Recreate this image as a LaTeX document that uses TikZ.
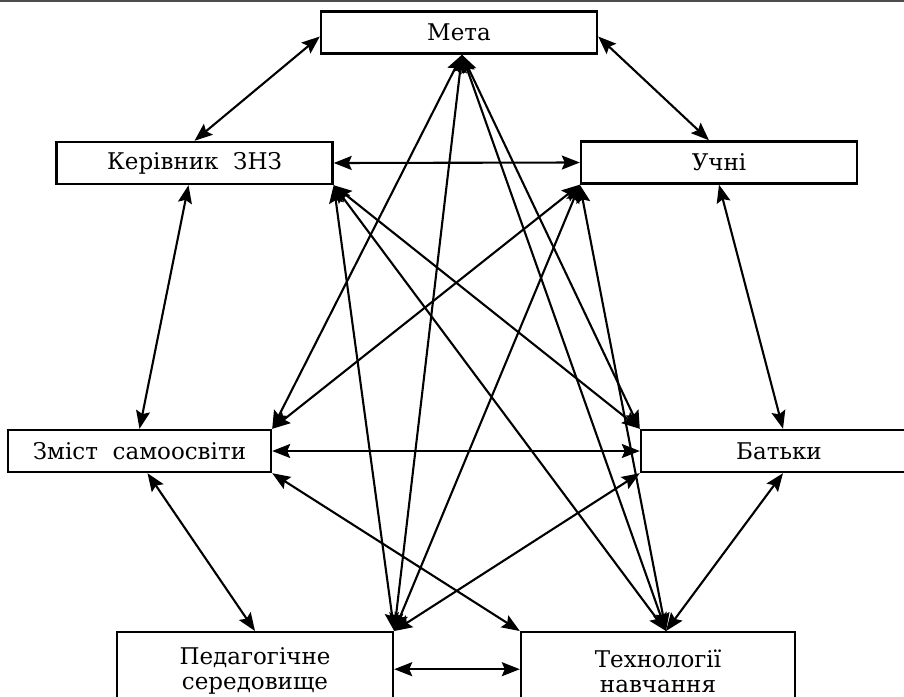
\documentclass[tikz,border=0pt]{standalone}
\usepackage{fontspec}
\setmainfont{DejaVu Serif}
\usetikzlibrary{arrows.meta}

\begin{document}
\begin{tikzpicture}[
  x=0.5pt, y=-0.5pt,
  block/.style={rectangle, draw=black, line width=1.2pt, minimum width=138pt, minimum height=21pt, inner sep=2pt, font=\fontsize{11.5}{12.5}\selectfont},
  tallblock/.style={block, minimum height=39pt, anchor=north, align=center},
  link/.style={{Stealth[length=9pt,width=7pt,inset=1.5pt]}-{Stealth[length=9pt,width=7pt,inset=1.5pt]}, line width=1.05pt}
]
  \useasboundingbox (0,0) rectangle (904,696);
  \clip (0,0) rectangle (904,696);
  \draw[black!70, line width=1pt] (0,1) -- (904,1);

  \node (meta) [block] at (459,32.5) {Мета};
  \node (kerivnyk) [block] at (194.5,163) {Керівник\ \ ЗНЗ};
  \node (uchni) [block] at (719,162.5) {Учні};
  \node (zmist) [block, minimum width=131.5pt] at (139.5,451) {Зміст\ \ самоосвіти};
  \node (batky) [block] at (779,451) {Батьки};
  \node (pedsered) [tallblock] at (255,631) {Педагогічне\\середовище};
  \node (tekhnol) [tallblock, minimum width=137pt] at (658,631) {Технології\\навчання};

  \coordinate (metabot) at ([xshift=1.5pt]meta.south);
  \coordinate (tekhtop) at ([xshift=4pt]tekhnol.north);

  % outer ring
  \draw[link] ([yshift=-2pt]meta.west) -- (kerivnyk.north);
  \draw[link] ([yshift=-2pt]meta.east) -- ([xshift=-5pt]uchni.north);
  \draw[link] (kerivnyk.east) -- (uchni.west);
  \draw[link] ([xshift=-3pt]kerivnyk.south) -- (zmist.north);
  \draw[link] (uchni.south) -- ([xshift=2pt]batky.north);
  \draw[link] (zmist.east) -- (batky.west);
  \draw[link] ([xshift=4pt]zmist.south) -- (pedsered.north);
  \draw[link] ([xshift=2pt]batky.south) -- (tekhtop);
  \draw[link] ([yshift=1pt]pedsered.east) -- ([yshift=1pt]tekhnol.west);

  % cross links
  \foreach \dest in {zmist.north east, pedsered.north east, batky.north west, tekhtop}
    \draw[link] (metabot) -- (\dest);
  \foreach \dest in {pedsered.north east, batky.north west, tekhtop}
    \draw[link] (kerivnyk.south east) -- (\dest);
  \foreach \dest in {zmist.north east, pedsered.north east, tekhtop}
    \draw[link] (uchni.south west) -- (\dest);
  \draw[link] (zmist.south east) -- (tekhnol.north west);
  \draw[link] (batky.south west) -- (pedsered.north east);
\end{tikzpicture}
\end{document}
